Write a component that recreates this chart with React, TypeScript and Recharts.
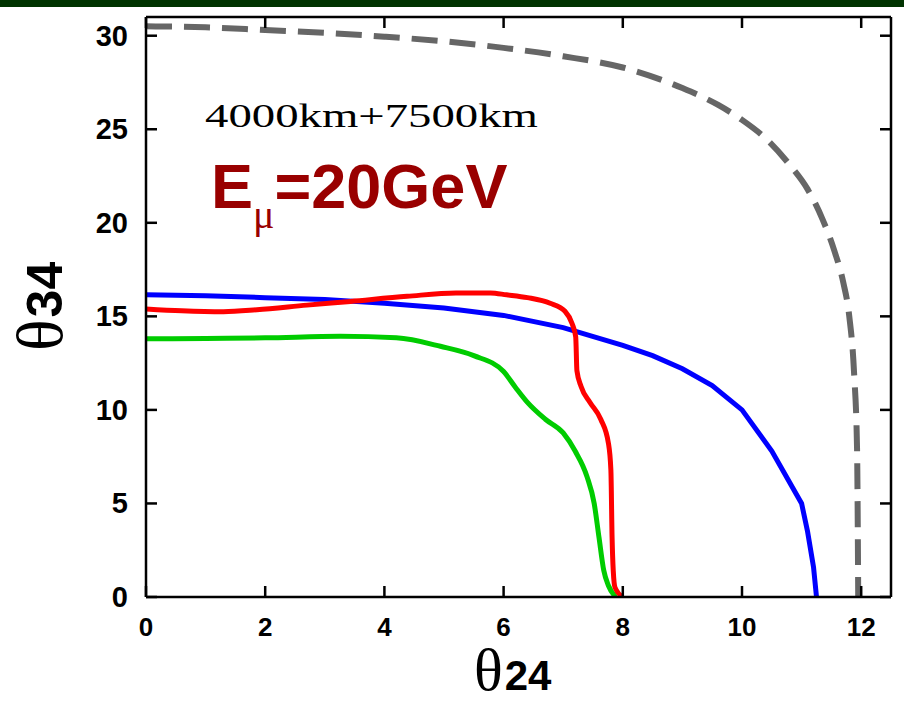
import { LineChart, Line, XAxis, YAxis } from 'recharts'

// curves: theta24 (x) vs theta34 (y)
const GRAY_X = [0, 1, 2, 3, 4, 5, 6, 7, 8, 9, 9.6, 10, 10.4, 10.8, 11.1, 11.35, 11.55, 11.7, 11.8, 11.88, 11.93, 11.95]
const GRAY_Y = [30.5, 30.45, 30.3, 30.15, 29.95, 29.7, 29.35, 28.9, 28.3, 27.2, 26.3, 25.5, 24.5, 23.1, 21.8, 20.2, 18.5, 16.8, 15.0, 12.0, 8.0, 0]

const BLUE_X = [0, 1, 2, 3, 4, 5, 6, 7, 8, 8.5, 9, 9.5, 10, 10.5, 11, 11.1, 11.2, 11.25]
const BLUE_Y = [16.15, 16.1, 16.0, 15.9, 15.7, 15.45, 15.05, 14.4, 13.45, 12.9, 12.2, 11.3, 10.0, 7.8, 5.0, 3.5, 1.6, 0]

const RED_X = [0, 0.6, 1.3, 1.86, 2.7, 3.43, 4.38, 5.2, 5.78, 6.05, 6.4, 6.78, 7.03, 7.15, 7.21, 7.23, 7.3, 7.45, 7.63, 7.76, 7.8, 7.82, 7.84, 7.87, 8.0]
const RED_Y = [15.4, 15.3, 15.25, 15.35, 15.6, 15.8, 16.07, 16.25, 16.25, 16.15, 16.0, 15.7, 15.27, 14.6, 13.9, 12.1, 11.25, 10.4, 9.5, 8.2, 6.8, 3.2, 1.4, 0.5, 0]

const GREEN_X = [0, 1, 2, 3.26, 4.2, 4.94, 5.5, 6.0, 6.2, 6.4, 6.7, 7.0, 7.2, 7.4, 7.52, 7.6, 7.68, 7.76, 7.88]
const GREEN_Y = [13.8, 13.82, 13.85, 13.93, 13.85, 13.4, 12.9, 12.05, 11.2, 10.4, 9.5, 8.77, 7.8, 6.43, 5.0, 3.2, 1.43, 0.6, 0]

const X_TICKS = [0, 2, 4, 6, 8, 10, 12]
const Y_TICKS = [0, 5, 10, 15, 20, 25, 30]

const pts = (xs: number[], ys: number[]) => xs.map((x, i) => ({ x, y: ys[i] }))

const SANS = '"Liberation Sans", Arial, sans-serif'
const SERIF = '"Liberation Serif", "Times New Roman", serif'
const TICK = 11

const BottomTick = ({ x, y, payload }: any) => (
  <g>
    <line x1={x} y1={y} x2={x} y2={y - TICK} stroke="#000" strokeWidth={2.5} />
    <text x={x} y={y + 39} textAnchor="middle" fontFamily={SANS} fontWeight="bold" fontSize={26} fill="#000">
      {payload.value}
    </text>
  </g>
)
const TopTick = ({ x, y }: any) => <line x1={x} y1={y} x2={x} y2={y + TICK} stroke="#000" strokeWidth={2.5} />
const LeftTick = ({ x, y, payload }: any) => (
  <g>
    <line x1={x} y1={y} x2={x + TICK} y2={y} stroke="#000" strokeWidth={2.5} />
    <text x={x - 18} y={y + 10} textAnchor="end" fontFamily={SANS} fontWeight="bold" fontSize={29} fill="#000">
      {payload.value}
    </text>
  </g>
)
const RightTick = ({ x, y }: any) => <line x1={x} y1={y} x2={x - TICK} y2={y} stroke="#000" strokeWidth={2.5} />

const axisLine = { stroke: '#000', strokeWidth: 2.5 }

export default function App() {
  return (
    <div style={{ position: 'absolute', left: 0, top: 0, width: 904, height: 702, background: '#fff' }}>
      <div style={{ position: 'absolute', left: 0, top: 0, width: 904, height: 7, background: '#003300' }} />
      <LineChart width={904} height={702} margin={{ top: 16, right: 12, bottom: 65, left: 86 }}>
        <XAxis xAxisId="b" dataKey="x" type="number" domain={[0, 12.5]} ticks={X_TICKS} allowDataOverflow
          height={40} tickSize={0} tickMargin={0} tickLine={false} axisLine={axisLine} tick={(p: any) => <BottomTick {...p} />} />
        <XAxis xAxisId="t" orientation="top" dataKey="x" type="number" domain={[0, 12.5]} ticks={X_TICKS} allowDataOverflow
          height={1} tickSize={0} tickMargin={0} tickLine={false} axisLine={axisLine} tick={(p: any) => <TopTick {...p} />} />
        <YAxis yAxisId="l" type="number" domain={[0, 31]} ticks={Y_TICKS} allowDataOverflow
          width={60} tickSize={0} tickMargin={0} tickLine={false} axisLine={axisLine} tick={(p: any) => <LeftTick {...p} />} />
        <YAxis yAxisId="r" orientation="right" type="number" domain={[0, 31]} ticks={Y_TICKS} allowDataOverflow
          width={1} tickSize={0} tickMargin={0} tickLine={false} axisLine={axisLine} tick={(p: any) => <RightTick {...p} />} />
        <Line data={pts(GRAY_X, GRAY_Y)} dataKey="y" xAxisId="b" yAxisId="l" type="monotone" stroke="#666666"
          strokeWidth={6} strokeDasharray="26 12" dot={false} isAnimationActive={false} />
        <Line data={pts(GREEN_X, GREEN_Y)} dataKey="y" xAxisId="b" yAxisId="l" type="monotone" stroke="#00cc00"
          strokeWidth={5} dot={false} isAnimationActive={false} />
        <Line data={pts(BLUE_X, BLUE_Y)} dataKey="y" xAxisId="b" yAxisId="l" type="linear" stroke="#0000ff"
          strokeWidth={5} dot={false} isAnimationActive={false} />
        <Line data={pts(RED_X, RED_Y)} dataKey="y" xAxisId="b" yAxisId="l" type="monotone" stroke="#ff0000"
          strokeWidth={5} dot={false} isAnimationActive={false} />
      </LineChart>
      <svg width={904} height={702} style={{ position: 'absolute', left: 0, top: 0, pointerEvents: 'none' }}>
        <text x={205} y={127} fontFamily={SERIF} fontSize={33} textLength={333} lengthAdjust="spacingAndGlyphs" fill="#000">
          4000km+7500km
        </text>
        <text x={211} y={208} fontFamily={SANS} fontWeight="bold" fontSize={63} fill="#990000">
          E<tspan fontFamily={SERIF} fontWeight="normal" fontSize={40} dy={20}>μ</tspan>
          <tspan dy={-20}>=20GeV</tspan>
        </text>
        <text x={474} y={690} fill="#000">
          <tspan fontFamily={SERIF} fontSize={60}>θ</tspan>
          <tspan fontFamily={SANS} fontWeight="bold" fontSize={42} dx={2}>24</tspan>
        </text>
        <text transform="translate(62,351) rotate(-90)" fill="#000">
          <tspan fontFamily={SERIF} fontSize={66}>θ</tspan>
          <tspan fontFamily={SANS} fontWeight="bold" fontSize={50} dx={2}>34</tspan>
        </text>
      </svg>
    </div>
  )
}
